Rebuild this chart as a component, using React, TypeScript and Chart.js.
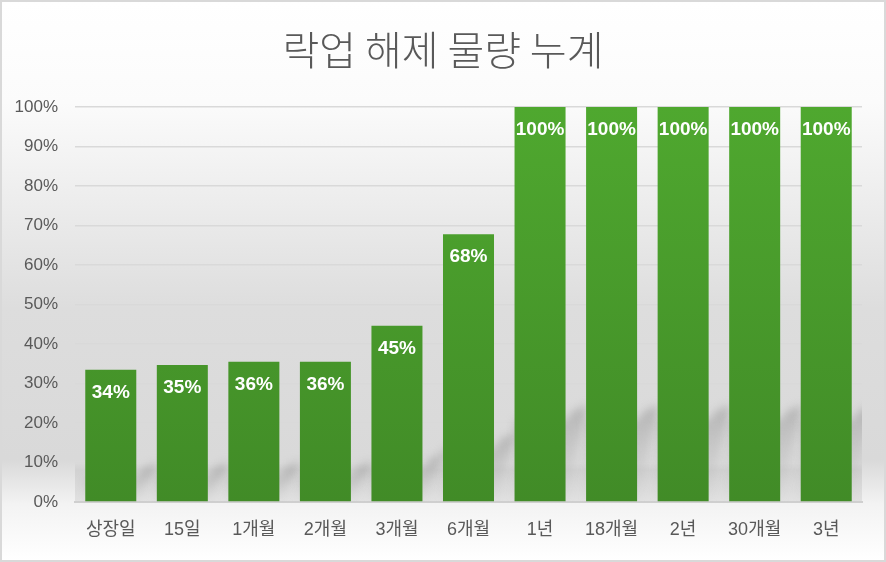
import { useEffect, useRef } from "react";
import { Chart, registerables } from "chart.js";

Chart.register(...registerables);

const categories = ["상장일", "15일", "1개월", "2개월", "3개월", "6개월", "1년", "18개월", "2년", "30개월", "3년"];
const cumulativeUnlock = [33.5, 34.7, 35.5, 35.5, 44.6, 67.8, 100, 100, 100, 100, 100];
const yTicks = [0, 10, 20, 30, 40, 50, 60, 70, 80, 90, 100];

const KR = "'Noto Sans CJK KR', 'Noto Sans', sans-serif";
const LATIN = "'Liberation Sans', 'Noto Sans CJK KR', sans-serif";

const backgroundPlugin = {
  id: "bgFill",
  beforeDraw(chart: any) {
    const { ctx, width, height, chartArea } = chart;
    const g = ctx.createLinearGradient(0, 0, 0, height);
    g.addColorStop(0, "#ffffff");
    g.addColorStop(0.18, "#fbfbfb");
    g.addColorStop(0.55, "#dddddd");
    g.addColorStop(0.82, "#d9d9d9");
    g.addColorStop(0.9, "#f3f3f3");
    g.addColorStop(1, "#ffffff");
    ctx.save();
    ctx.fillStyle = g;
    ctx.fillRect(0, 0, width, height);
    // floor band under the bars
    const top = chartArea.bottom - 40;
    const band = ctx.createLinearGradient(0, top, 0, chartArea.bottom);
    band.addColorStop(0, "rgba(195,195,195,0)");
    band.addColorStop(0.2, "rgba(195,195,195,0.5)");
    band.addColorStop(1, "rgba(205,205,205,0.45)");
    ctx.fillStyle = band;
    ctx.fillRect(chartArea.left, top, chartArea.right - chartArea.left, 40);
    ctx.restore();
  },
};

// soft slanted reflection shadow behind each bar
const shadowPlugin = {
  id: "barShadows",
  beforeDatasetsDraw(chart: any) {
    const { ctx, chartArea } = chart;
    const meta = chart.getDatasetMeta(0);
    ctx.save();
    ctx.beginPath();
    ctx.rect(chartArea.left, chartArea.top, chartArea.right - chartArea.left, chartArea.bottom - chartArea.top);
    ctx.clip();
    ctx.filter = "blur(4px)";
    meta.data.forEach((bar: any) => {
      const { x, y, base, width } = bar.getProps(["x", "y", "base", "width"], true);
      const h = base - y;
      const sh = h * 0.22;
      const left = x - width / 2;
      const right = x + width / 2;
      const g = ctx.createLinearGradient(0, base - sh, 0, base);
      g.addColorStop(0, "rgba(150,150,150,0.5)");
      g.addColorStop(0.5, "rgba(165,165,165,0.25)");
      g.addColorStop(1, "rgba(180,180,180,0.05)");
      ctx.fillStyle = g;
      ctx.beginPath();
      ctx.moveTo(left, base);
      ctx.lineTo(right, base);
      ctx.lineTo(right + 22, base - sh - 10);
      ctx.lineTo(right + 8, base - sh - 4);
      ctx.lineTo(right, base - sh + 6);
      ctx.lineTo(left, base - sh + 6);
      ctx.closePath();
      ctx.fill();
    });
    ctx.restore();
  },
};

const labelPlugin = {
  id: "barLabels",
  afterDatasetsDraw(chart: any) {
    const { ctx } = chart;
    const meta = chart.getDatasetMeta(0);
    ctx.save();
    ctx.fillStyle = "#ffffff";
    ctx.font = `bold 19px ${LATIN}`;
    ctx.textAlign = "center";
    ctx.textBaseline = "middle";
    meta.data.forEach((bar: any, i: number) => {
      const v = cumulativeUnlock[i];
      ctx.fillText(`${Math.round(v)}%`, bar.x, bar.y + 23);
    });
    ctx.restore();
  },
};

export default function App() {
  const canvasRef = useRef<HTMLCanvasElement | null>(null);

  useEffect(() => {
    document.body.style.margin = "0";
    if (!canvasRef.current) return;

    const chart = new Chart(canvasRef.current.getContext("2d")!, {
      type: "bar",
      data: {
        labels: categories,
        datasets: [
          {
            label: "락업 해제 물량 누계",
            data: cumulativeUnlock,
            backgroundColor: (c: any) => {
              const area = c.chart.chartArea;
              if (!area) return "#49a02c";
              const g = c.chart.ctx.createLinearGradient(0, area.top, 0, area.bottom);
              g.addColorStop(0, "#4fa82f");
              g.addColorStop(1, "#418b27");
              return g;
            },
            barPercentage: 0.713,
            categoryPercentage: 1,
          },
        ],
      },
      options: {
        animation: false,
        responsive: true,
        maintainAspectRatio: false,
        layout: { padding: 0 },
        plugins: {
          legend: { display: false },
          tooltip: { enabled: false },
          title: {
            display: true,
            text: "락업 해제 물량 누계",
            color: "#595959",
            font: { family: KR, size: 40, weight: 300, lineHeight: 1.2 },
            padding: { top: 24, bottom: 33 },
          },
        },
        scales: {
          x: {
            grid: { display: false, drawTicks: false },
            border: { color: "#cfcfcf", width: 2 },
            afterFit: (axis: any) => {
              axis.height = 58;
            },
            ticks: { color: "#595959", font: { family: LATIN, size: 18 }, padding: 17 },
          },
          y: {
            min: 0,
            max: 100,
            afterBuildTicks: (axis: any) => {
              axis.ticks = yTicks.map((v) => ({ value: v }));
            },
            afterFit: (axis: any) => {
              axis.width = 73;
            },
            grid: { color: "#d9d9d9", lineWidth: 1.5, drawTicks: false },
            border: { display: false },
            ticks: {
              color: "#595959",
              font: { family: LATIN, size: 17 },
              padding: 17,
              callback: (v: any) => `${v}%`,
            },
          },
          // empty right margin so the title stays centred on the whole frame
          yRight: {
            position: "right",
            min: 0,
            max: 100,
            grid: { display: false, drawTicks: false },
            border: { display: false },
            ticks: { display: false },
            afterFit: (axis: any) => {
              axis.width = 22;
            },
          },
        },
      },
      plugins: [backgroundPlugin, shadowPlugin, labelPlugin],
    });

    return () => chart.destroy();
  }, []);

  return (
    <div
      style={{
        width: 886,
        height: 562,
        boxSizing: "border-box",
        border: "2px solid #d9d9d9",
      }}
    >
      <canvas ref={canvasRef} />
    </div>
  );
}
